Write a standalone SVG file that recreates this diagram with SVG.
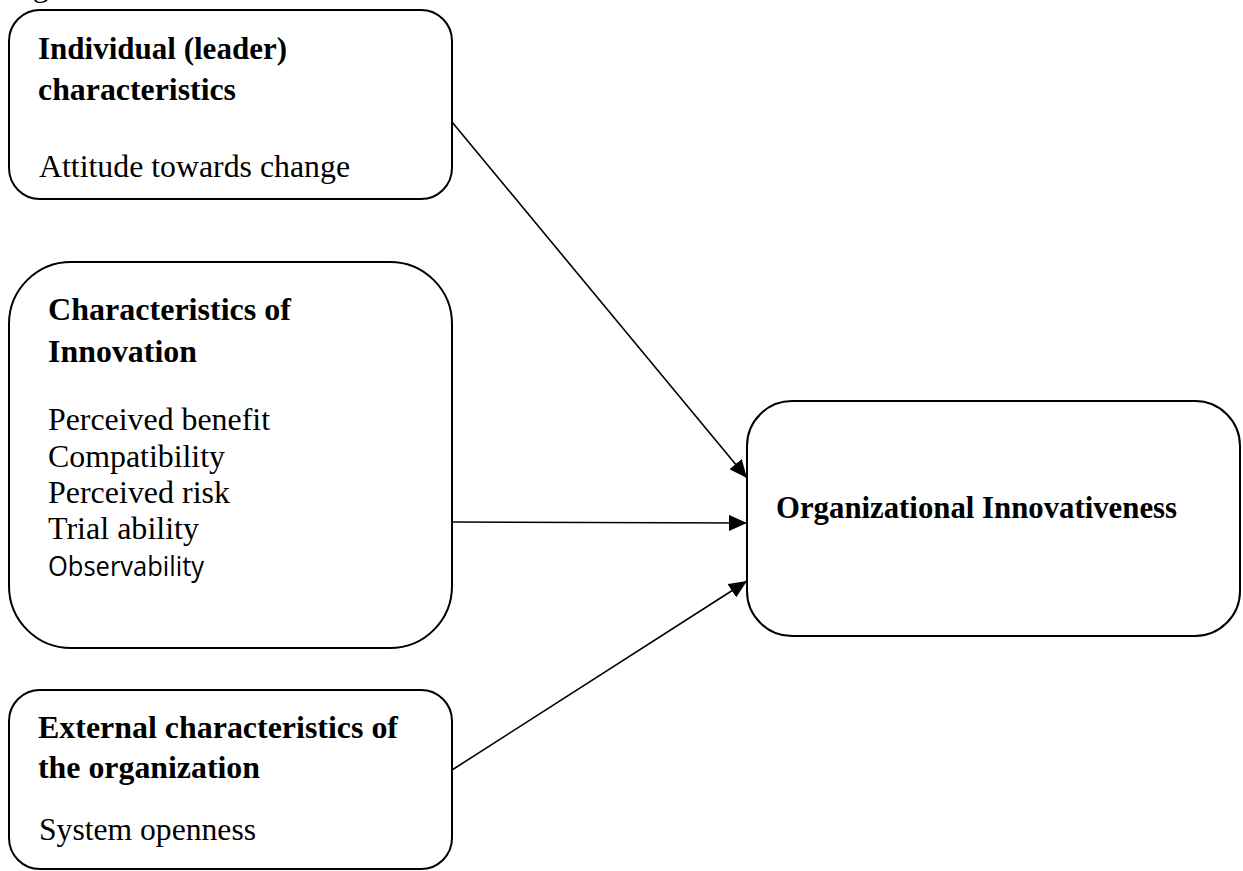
<svg xmlns="http://www.w3.org/2000/svg" width="1243" height="871" viewBox="0 0 1243 871">
<style>
.box{fill:#fff;stroke:#000;stroke-width:2}
.t{font-family:"Liberation Serif","Times New Roman",serif;font-size:32px;fill:#000}
.b{font-weight:bold}
.s{font-family:"Open Sans","Noto Sans",sans-serif;font-size:27px;fill:#000}
.c{stroke:#000;stroke-width:1.6;fill:none}
</style>
<defs>
<marker id="arr" viewBox="0 0 18 16" refX="18" refY="8" markerWidth="18" markerHeight="16" markerUnits="userSpaceOnUse" orient="auto">
<path d="M0,0 L18,8 L0,16 z" fill="#000"/>
</marker>
</defs>
<rect width="1243" height="871" fill="#fff"/>
<text class="t" x="6" y="-4">Fig</text>
<g id="connectors">
<line class="c" x1="452" y1="122" x2="747" y2="478" marker-end="url(#arr)"/>
<line class="c" x1="452" y1="522" x2="747" y2="523" marker-end="url(#arr)"/>
<line class="c" x1="452" y1="770" x2="747" y2="581" marker-end="url(#arr)"/>
</g>
<g id="node-individual">
<rect class="box" x="9" y="10" width="443" height="189" rx="31" ry="31"/>
<text class="t b" x="38" y="59" textLength="249" lengthAdjust="spacingAndGlyphs">Individual (leader)</text>
<text class="t b" x="38" y="100" textLength="198" lengthAdjust="spacingAndGlyphs">characteristics</text>
<text class="t" x="39" y="177" textLength="311" lengthAdjust="spacingAndGlyphs">Attitude towards change</text>
</g>
<g id="node-innovation">
<rect class="box" x="9" y="262" width="443" height="386" rx="62" ry="62"/>
<text class="t b" x="48" y="320" textLength="243" lengthAdjust="spacingAndGlyphs">Characteristics of</text>
<text class="t b" x="48" y="362" textLength="149" lengthAdjust="spacingAndGlyphs">Innovation</text>
<text class="t" x="48" y="430" textLength="222" lengthAdjust="spacingAndGlyphs">Perceived benefit</text>
<text class="t" x="48" y="467" textLength="177" lengthAdjust="spacingAndGlyphs">Compatibility</text>
<text class="t" x="48" y="503" textLength="182" lengthAdjust="spacingAndGlyphs">Perceived risk</text>
<text class="t" x="48" y="539" textLength="151" lengthAdjust="spacingAndGlyphs">Trial ability</text>
<text class="s" x="48" y="576" textLength="156" lengthAdjust="spacingAndGlyphs">Observability</text>
</g>
<g id="node-external">
<rect class="box" x="9" y="690" width="443" height="179" rx="31" ry="31"/>
<text class="t b" x="38" y="738" textLength="360" lengthAdjust="spacingAndGlyphs">External characteristics of</text>
<text class="t b" x="38" y="778" textLength="222" lengthAdjust="spacingAndGlyphs">the organization</text>
<text class="t" x="39" y="840" textLength="217" lengthAdjust="spacingAndGlyphs">System openness</text>
</g>
<g id="node-outcome">
<rect class="box" x="747" y="401" width="493" height="235" rx="45" ry="45"/>
<text class="t b" x="776" y="518" textLength="401" lengthAdjust="spacingAndGlyphs">Organizational Innovativeness</text>
</g>
</svg>
